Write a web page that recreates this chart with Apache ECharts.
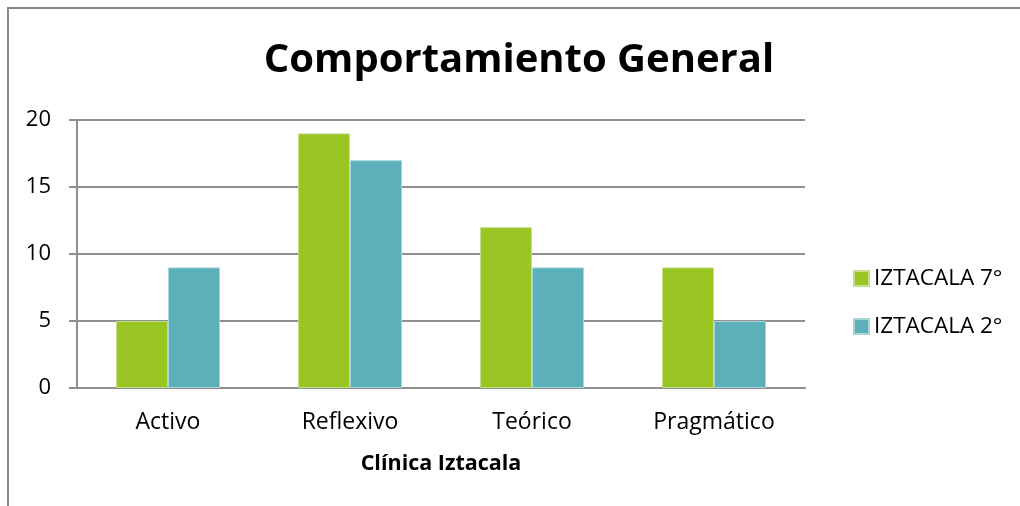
<!DOCTYPE html>
<html><head><meta charset="utf-8">
<script src="https://cdn.jsdelivr.net/npm/echarts@6/dist/echarts.min.js"></script>
<style>
html,body{margin:0;padding:0;width:1020px;height:506px;overflow:hidden;background:#fff;}
#frame{position:absolute;left:7px;top:7px;width:1100px;height:600px;border-left:2px solid #888;border-top:2px solid #888;}
#c{position:absolute;left:0;top:0;width:1020px;height:506px;}
</style></head><body>
<div id="frame"></div>
<div id="c"></div>
<script>
var categories = ['Activo', 'Reflexivo', 'Teórico', 'Pragmático'];
var seriesNames = ['IZTACALA 7°', 'IZTACALA 2°'];
var iztacala7 = [5, 19, 12, 9];
var iztacala2 = [9, 17, 9, 5];
var yTicks = [0, 5, 10, 15, 20];

var font = 'Open Sans';
var chart = echarts.init(document.getElementById('c'));
chart.setOption({
  animation: false,
  title: {
    text: 'Comportamiento General',
    left: 514, top: 36, textAlign: 'center',
    textStyle: {fontFamily: font, fontWeight: 'bold', fontSize: 40, color: '#000'}
  },
  legend: {
    orient: 'vertical', left: 848, top: 262, itemGap: 25,
    itemWidth: 15, itemHeight: 15, icon: 'rect',
    textStyle: {fontFamily: font, fontSize: 22.5, color: '#000'},
    data: seriesNames
  },
  grid: {left: 77, right: 215, top: 120, bottom: 118, containLabel: false},
  xAxis: {
    type: 'category', data: categories,
    name: 'Clínica Iztacala', nameLocation: 'middle', nameGap: 65,
    nameTextStyle: {fontFamily: font, fontWeight: 'bold', fontSize: 21.5, color: '#000'},
    axisLine: {lineStyle: {color: '#8f8f8f', width: 2}},
    axisTick: {show: false},
    axisLabel: {fontFamily: font, fontSize: 23, color: '#000', margin: 23}
  },
  yAxis: {
    type: 'value', min: yTicks[0], max: yTicks[yTicks.length - 1], interval: 5,
    axisLine: {show: true, lineStyle: {color: '#8f8f8f', width: 2}},
    axisTick: {show: true, length: 8, lineStyle: {color: '#8f8f8f', width: 2}},
    splitLine: {lineStyle: {color: '#8f8f8f', width: 2}},
    axisLabel: {fontFamily: font, fontSize: 22, color: '#000', margin: 26}
  },
  series: [
    {name: seriesNames[0], type: 'bar', data: iztacala7, barWidth: 52, barGap: '0%',
     itemStyle: {color: '#9ac623', borderColor: '#c4e08a', borderWidth: 1}},
    {name: seriesNames[1], type: 'bar', data: iztacala2, barWidth: 52, barGap: '0%',
     itemStyle: {color: '#5bb0b9', borderColor: '#a6d5da', borderWidth: 1}}
  ]
});
</script>
</body></html>
